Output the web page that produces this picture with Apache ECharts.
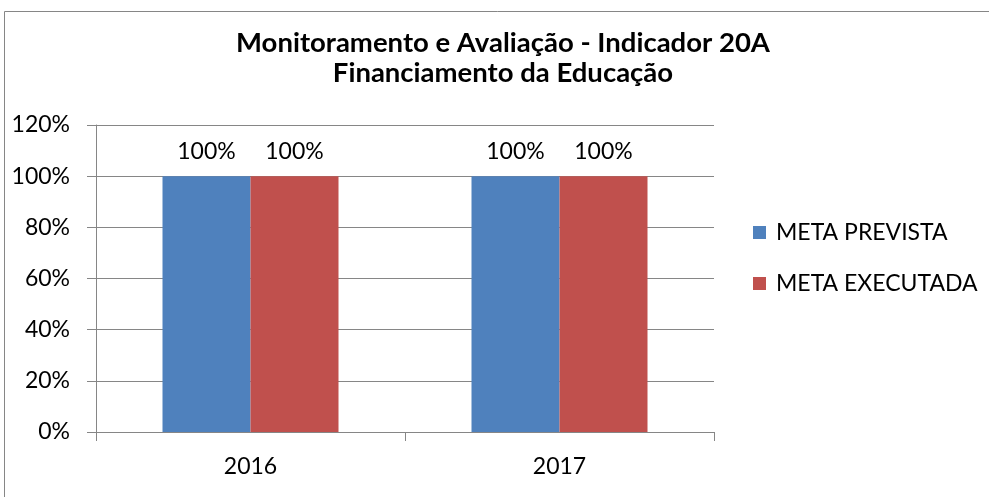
<!DOCTYPE html>
<html>
<head>
<meta charset="utf-8">
<script src="https://cdn.jsdelivr.net/npm/echarts@6/dist/echarts.min.js"></script>
<style>
  html, body { margin: 0; padding: 0; background: #fff; }
  #chart { width: 989px; height: 497px; }
</style>
</head>
<body>
<div id="chart"></div>
<script>
// Years on the category axis
const years = ['2016', '2017'];
// Share of the target (1 = 100%)
const metaPrevista = [1.0, 1.0];
const metaExecutada = [1.0, 1.0];
// Value axis bounds
const yMin = 0;
const yMax = 1.2;
const yStep = 0.2;

const font = 'Lato, "Open Sans", sans-serif';
const textSize = 23;
const pct = v => Math.round(v * 100) + '%';

const chart = echarts.init(document.getElementById('chart'), null, { renderer: 'canvas' });

const barLabel = {
  show: true,
  position: 'top',
  distance: 13,
  formatter: p => pct(p.value),
  color: '#000',
  fontFamily: font,
  fontSize: textSize
};

chart.setOption({
  animation: false,
  backgroundColor: '#fff',
  title: {
    text: 'Monitoramento e Avaliação - Indicador 20A\nFinanciamento da Educação',
    left: 503,
    top: 28,
    padding: 0,
    textAlign: 'center',
    textStyle: {
      fontFamily: font,
      fontWeight: 'bold',
      fontSize: 27.5,
      lineHeight: 30,
      color: '#000'
    }
  },
  legend: {
    orient: 'vertical',
    left: 753,
    top: 221,
    padding: 0,
    itemWidth: 13,
    itemHeight: 13,
    itemGap: 28,
    icon: 'rect',
    textStyle: { fontFamily: font, fontSize: textSize, color: '#000', padding: [0, 0, 0, 5] },
    data: ['META PREVISTA', 'META EXECUTADA']
  },
  grid: { left: 96, right: 275, top: 125, bottom: 65 },
  xAxis: {
    type: 'category',
    data: years,
    axisLine: { lineStyle: { color: '#868686', width: 1 } },
    axisTick: { show: true, length: 9, lineStyle: { color: '#868686' } },
    axisLabel: { fontFamily: font, fontSize: textSize, color: '#000', margin: 23 }
  },
  yAxis: {
    type: 'value',
    min: yMin,
    max: yMax,
    interval: yStep,
    axisLine: { show: true, lineStyle: { color: '#868686', width: 1 } },
    axisTick: { show: true, length: 9, lineStyle: { color: '#868686' } },
    axisLabel: { fontFamily: font, fontSize: textSize, color: '#000', margin: 26, formatter: pct },
    splitLine: { show: true, lineStyle: { color: '#868686', width: 1 } }
  },
  series: [
    {
      name: 'META PREVISTA',
      type: 'bar',
      data: metaPrevista,
      barWidth: 88,
      barGap: '0%',
      itemStyle: { color: '#4F81BD' },
      label: barLabel
    },
    {
      name: 'META EXECUTADA',
      type: 'bar',
      data: metaExecutada,
      barWidth: 88,
      barGap: '0%',
      itemStyle: { color: '#C0504D' },
      label: barLabel
    }
  ],
  graphic: [
    {
      type: 'rect',
      silent: true,
      shape: { x: 4.5, y: 11.5, width: 1100, height: 600 },
      style: { fill: 'none', stroke: '#868686', lineWidth: 1 }
    }
  ]
});
</script>
</body>
</html>
